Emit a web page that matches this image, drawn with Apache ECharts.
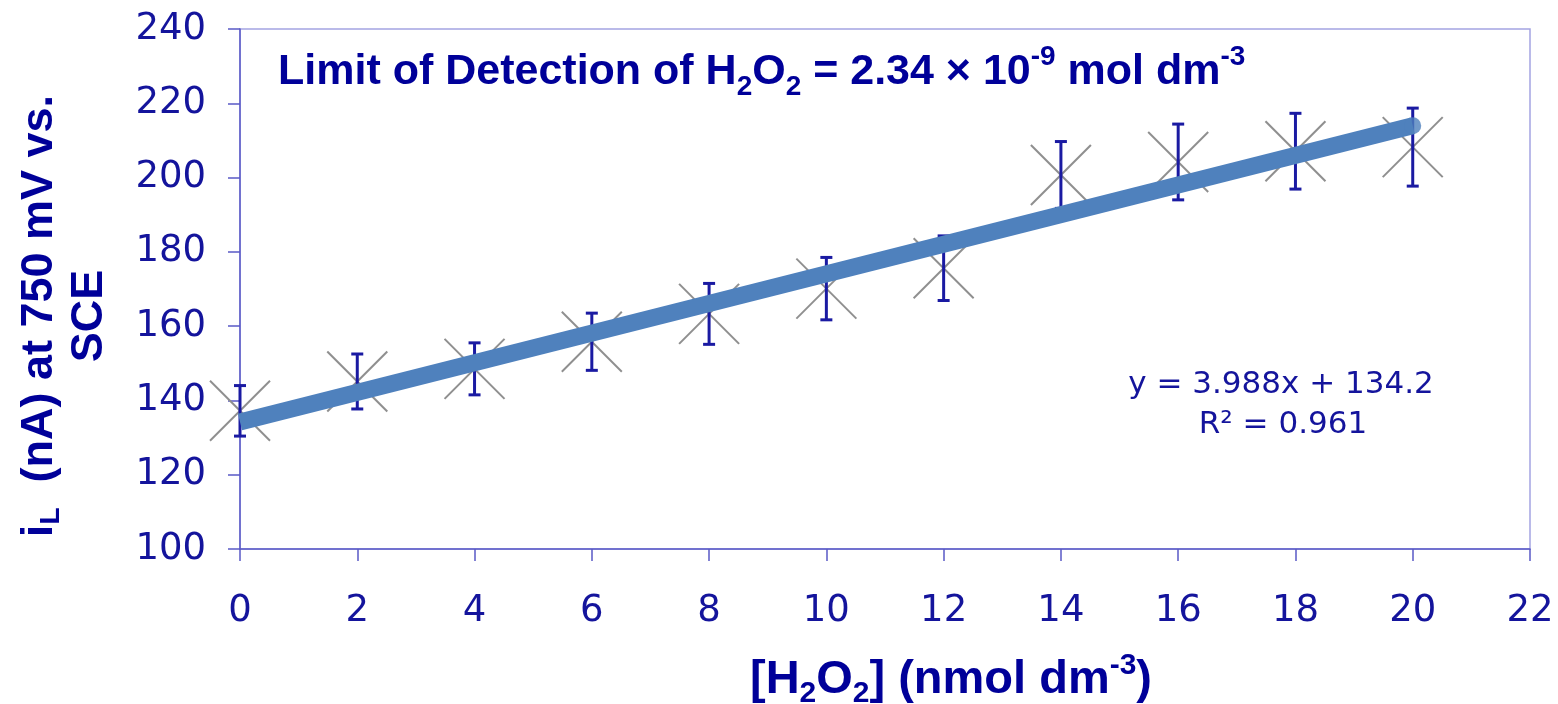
<!DOCTYPE html>
<html>
<head>
<meta charset="utf-8">
<script src="https://cdn.jsdelivr.net/npm/echarts@6/dist/echarts.min.js"></script>
<style>
html,body{margin:0;padding:0;background:#fff;}
#chart{width:1558px;height:704px;}
</style>
</head>
<body>
<div id="chart"></div>
<script>
// ---- data ----
const concentration = [0, 2, 4, 6, 8, 10, 12, 14, 16, 18, 20];
const meanCurrent   = [137.2, 145.1, 148.5, 155.8, 163.3, 170.1, 175.6, 200.7, 204.2, 207.1, 208.2];
const errorCurrent  = [6.8, 7.4, 7.0, 7.7, 8.2, 8.4, 8.7, 9.0, 10.2, 10.2, 10.5];
const fitX = [0, 20];
const fitY = [134.2, 213.96];
const equationText = 'y = 3.988x + 134.2';
const r2Text = 'R\u00B2 = 0.961';

const NAVY = '#000099';
const LABEL = '#14149c';
const AXIS = '#5a5ac6';
const FIT = '#4f81bd';

const chart = echarts.init(document.getElementById('chart'));

const markerData = concentration.map((x, i) => [x, meanCurrent[i]]);
const errData = concentration.map((x, i) => [x, meanCurrent[i] - errorCurrent[i], meanCurrent[i] + errorCurrent[i]]);
const fitData = fitX.map((x, i) => [x, fitY[i]]);
const fitEnd = [fitData[fitData.length - 1]];

const option = {
  animation: false,
  backgroundColor: '#ffffff',
  grid: {
    left: 240, right: 28, top: 29, bottom: 155,
    show: true, borderColor: '#a4a4e2', borderWidth: 1.5, backgroundColor: 'transparent'
  },
  xAxis: {
    type: 'value', min: 0, max: 22, interval: 2,
    axisLine: { show: true, lineStyle: { color: AXIS, width: 1.5 } },
    axisTick: { show: true, length: 12, lineStyle: { color: AXIS, width: 1.5 } },
    splitLine: { show: false },
    axisLabel: { color: LABEL, fontFamily: 'DejaVu Sans', fontSize: 37, margin: 44 }
  },
  yAxis: {
    type: 'value', min: 100, max: 240, interval: 20,
    axisLine: { show: true, lineStyle: { color: AXIS, width: 1.5 } },
    axisTick: { show: true, length: 12, lineStyle: { color: AXIS, width: 1.5 } },
    splitLine: { show: false },
    axisLabel: { color: LABEL, fontFamily: 'DejaVu Sans', fontSize: 37, margin: 34 }
  },
  series: [
    {
      type: 'custom', name: 'points', z: 2,
      data: markerData,
      renderItem: function (params, api) {
        const p = api.coord([api.value(0), api.value(1)]);
        const h = 30;
        const st = { stroke: '#8f8f8f', lineWidth: 2 };
        return {
          type: 'group',
          children: [
            { type: 'line', shape: { x1: p[0] - h, y1: p[1] - h, x2: p[0] + h, y2: p[1] + h }, style: st },
            { type: 'line', shape: { x1: p[0] - h, y1: p[1] + h, x2: p[0] + h, y2: p[1] - h }, style: st }
          ]
        };
      }
    },
    {
      type: 'custom', name: 'error', z: 3,
      data: errData,
      renderItem: function (params, api) {
        const lo = api.coord([api.value(0), api.value(1)]);
        const hi = api.coord([api.value(0), api.value(2)]);
        const c = 6;
        const st = { stroke: '#1a1aa2', lineWidth: 3 };
        return {
          type: 'group',
          children: [
            { type: 'line', shape: { x1: lo[0], y1: lo[1], x2: hi[0], y2: hi[1] }, style: st },
            { type: 'line', shape: { x1: lo[0] - c, y1: lo[1], x2: lo[0] + c, y2: lo[1] }, style: st },
            { type: 'line', shape: { x1: hi[0] - c, y1: hi[1], x2: hi[0] + c, y2: hi[1] }, style: st }
          ]
        };
      }
    },
    {
      type: 'line', name: 'fit', z: 4,
      data: fitData,
      showSymbol: false, symbol: 'none',
      clip: true,
      lineStyle: { width: 17, color: FIT, cap: 'butt' }
    },
    {
      type: 'scatter', name: 'fitEnd', z: 4,
      data: fitEnd,
      symbol: 'circle', symbolSize: 17,
      itemStyle: { color: FIT }
    }
  ],
  graphic: [
    {
      type: 'text', x: 278, y: 72, z: 10,
      style: {
        text: '{n|Limit of Detection of H}{sb|2}{n|O}{sb|2}{n| = 2.34 \u00D7 10}{sp|-9}{n| mol dm}{sp|-3}',
        align: 'left', verticalAlign: 'middle', textAlign: 'left', textVerticalAlign: 'middle',
        fill: NAVY,
        rich: {
          n: { fontFamily: 'Liberation Sans', fontWeight: 'bold', fontSize: 43, lineHeight: 58, fill: NAVY, color: NAVY, verticalAlign: 'middle' },
          sb: { fontFamily: 'Liberation Sans', fontWeight: 'bold', fontSize: 28, lineHeight: 58, fill: NAVY, color: NAVY, verticalAlign: 'bottom' },
          sp: { fontFamily: 'Liberation Sans', fontWeight: 'bold', fontSize: 28, lineHeight: 58, fill: NAVY, color: NAVY, verticalAlign: 'top' }
        }
      }
    },
    {
      type: 'text', x: 65, y: 316, rotation: Math.PI / 2, z: 10,
      style: {
        text: '{n|i}{sb|L}{n|  (nA) at 750 mV vs.}\n{n|SCE}',
        align: 'center', verticalAlign: 'middle', textAlign: 'center', textVerticalAlign: 'middle',
        fill: NAVY,
        rich: {
          n: { fontFamily: 'Liberation Sans', fontWeight: 'bold', fontSize: 45, lineHeight: 50, fill: NAVY, color: NAVY, verticalAlign: 'middle' },
          sb: { fontFamily: 'Liberation Sans', fontWeight: 'bold', fontSize: 28, lineHeight: 50, fill: NAVY, color: NAVY, verticalAlign: 'bottom' }
        }
      }
    },
    {
      type: 'text', x: 951, y: 680, z: 10,
      style: {
        text: '{n|[H}{sb|2}{n|O}{sb|2}{n|] (nmol dm}{sp|-3}{n|)}',
        align: 'center', verticalAlign: 'middle', textAlign: 'center', textVerticalAlign: 'middle',
        fill: NAVY,
        rich: {
          n: { fontFamily: 'Liberation Sans', fontWeight: 'bold', fontSize: 47, lineHeight: 58, fill: NAVY, color: NAVY, verticalAlign: 'middle' },
          sb: { fontFamily: 'Liberation Sans', fontWeight: 'bold', fontSize: 30, lineHeight: 58, fill: NAVY, color: NAVY, verticalAlign: 'bottom' },
          sp: { fontFamily: 'Liberation Sans', fontWeight: 'bold', fontSize: 30, lineHeight: 58, fill: NAVY, color: NAVY, verticalAlign: 'top' }
        }
      }
    },
    {
      type: 'text', x: 1281, y: 385, z: 10,
      style: {
        text: equationText, fontFamily: 'DejaVu Sans', fontSize: 31, fill: LABEL,
        align: 'center', verticalAlign: 'middle', textAlign: 'center', textVerticalAlign: 'middle'
      }
    },
    {
      type: 'text', x: 1283, y: 425, z: 10,
      style: {
        text: r2Text, fontFamily: 'DejaVu Sans', fontSize: 31, fill: LABEL,
        align: 'center', verticalAlign: 'middle', textAlign: 'center', textVerticalAlign: 'middle'
      }
    }
  ]
};
chart.setOption(option);
</script>
</body>
</html>
